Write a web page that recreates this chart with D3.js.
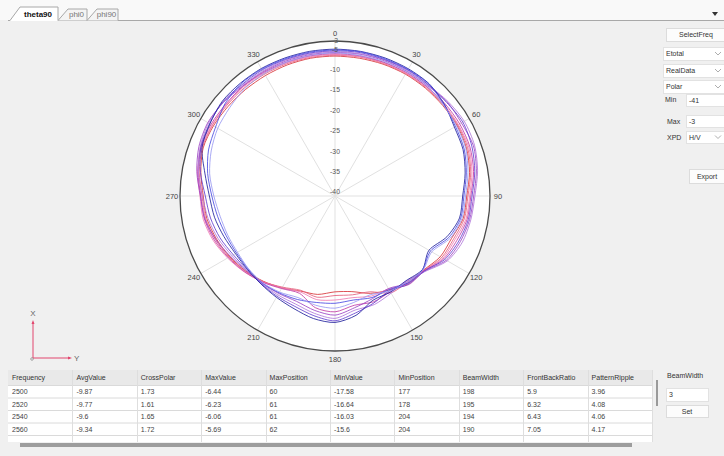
<!DOCTYPE html>
<html>
<head>
<meta charset="utf-8">
<script src="https://cdn.jsdelivr.net/npm/d3@7"></script>
<style>
body { margin: 0; background: #f0f0f0; }
svg text { font-family: "Liberation Sans", Arial, sans-serif; }
</style>
</head>
<body>
<div id="chart"></div>
<script>
// angles (deg) of the pattern samples
var angles = [0,10,20,30,40,50,60,70,80,90,100,110,120,130,140,150,160,170,
              180,190,200,210,220,230,240,250,260,270,280,290,300,310,320,330,340,350];

var freqs = [2500, 2520, 2540, 2560, 2580, 2600, 2620, 2640, 2660, 2680];

// gain in dB for each frequency, one value per angle
var g2500 = [-6.7,-6.7,-6.6,-6.5,-6.5,-6.5,-6.44,-6.7,-7.5,-8.7,-9.1,-10.6,-11.2,-12.7,-13.0,-14.4,-15.6,-17.2,
             -17.5,-16.5,-16.2,-15.0,-13.7,-12.4,-11.2,-10.1,-9.1,-8.7,-7.6,-6.6,-6.6,-6.8,-6.9,-6.9,-6.8,-6.7];
var g2520 = [-6.5,-6.4,-6.4,-6.3,-6.3,-6.3,-6.23,-6.4,-7.2,-8.4,-8.8,-10.1,-10.8,-12.6,-13.4,-13.6,-16.0,-16.4,
             -16.6,-15.8,-16.4,-15.2,-13.6,-12.3,-11.0,-9.8,-8.8,-8.4,-7.2,-6.4,-6.3,-6.4,-6.4,-6.5,-6.5,-6.5];
var g2540 = [-6.3,-6.3,-6.2,-6.2,-6.1,-6.1,-6.06,-6.1,-6.9,-8.0,-8.4,-9.7,-10.5,-12.5,-12.7,-14.7,-14.9,-15.7,
             -15.5,-15.2,-16.0,-15.0,-13.5,-12.0,-10.6,-9.2,-8.2,-7.9,-6.8,-6.2,-6.2,-6.2,-6.1,-6.2,-6.3,-6.3];
var g2560 = [-6.1,-6.1,-6.1,-6.0,-6.0,-5.8,-5.69,-5.8,-6.5,-7.7,-8.1,-9.2,-10.2,-12.5,-13.6,-13.9,-13.4,-13.8,
             -12.6,-13.2,-15.6,-14.8,-13.4,-12.1,-10.8,-9.5,-8.5,-8.1,-6.9,-6.0,-5.9,-6.0,-5.9,-6.0,-6.1,-6.1];
var g2580 = [-5.8,-5.7,-5.7,-5.7,-5.7,-5.1,-5.2,-4.9,-5.8,-7.0,-7.5,-8.3,-9.5,-12.3,-13.1,-14.8,-14.2,-13.2,
             -11.8,-12.5,-13.5,-13.4,-13.1,-12.6,-11.4,-9.9,-8.6,-8.0,-6.6,-5.5,-5.0,-5.3,-5.8,-5.8,-5.8,-5.8];
var g2600 = [-5.6,-5.6,-5.5,-5.5,-5.5,-4.9,-4.4,-4.6,-5.5,-6.7,-7.2,-7.8,-9.2,-12.2,-13.8,-13.5,-12.7,-12.6,
             -11.0,-11.8,-12.8,-13.0,-13.0,-12.7,-11.8,-10.5,-9.4,-8.5,-7.0,-5.8,-5.2,-5.2,-5.6,-5.6,-5.6,-5.6];
var g2620 = [-5.4,-5.3,-5.4,-5.3,-5.4,-5.3,-4.8,-5.3,-6.2,-7.4,-7.8,-8.7,-9.9,-12.4,-12.8,-14.2,-13.1,-11.9,
             -10.4,-11.2,-12.2,-12.6,-12.9,-12.9,-12.2,-11.0,-10.0,-9.2,-7.5,-6.0,-5.5,-5.1,-5.4,-5.3,-5.4,-5.4];
var g2640 = [-5.0,-5.0,-5.0,-5.0,-5.1,-6.0,-7.2,-7.6,-8.6,-9.7,-10.0,-11.8,-14.4,-13.0,-13.9,-13.8,-13.8,-11.3,
             -10.0,-10.5,-11.6,-12.3,-12.8,-13.0,-12.8,-12.0,-11.0,-10.2,-8.6,-6.3,-5.6,-4.9,-4.9,-4.9,-5.0,-5.0];
var g2660 = [-5.2,-5.1,-5.2,-5.2,-5.2,-6.1,-6.9,-7.3,-8.3,-9.4,-9.7,-11.3,-14.0,-12.9,-13.2,-14.5,-14.5,-15.1,
             -14.7,-14.5,-14.0,-13.6,-13.2,-13.2,-13.1,-12.6,-11.8,-10.8,-9.3,-8.0,-7.2,-5.8,-5.1,-5.1,-5.2,-5.2];
var g2680 = [-5.9,-6.0,-5.9,-5.8,-5.8,-6.3,-6.6,-6.9,-7.9,-9.0,-9.4,-10.9,-13.6,-12.8,-13.5,-14.1,-15.3,-14.5,
             -13.5,-13.8,-14.5,-13.8,-13.3,-13.3,-13.4,-13.0,-12.4,-11.3,-9.8,-8.7,-7.8,-7.3,-6.6,-6.3,-6.1,-6.0];

var gains = [g2500, g2520, g2540, g2560, g2580, g2600, g2620, g2640, g2660, g2680];
var colors = ["#d8353a", "#e4607c", "#f07cb4", "#c23ca4", "#9c44c4", "#b27ada",
              "#6440d0", "#22229c", "#4a4ae2", "#9a9af2"];

var radialTicks = [-40, -35, -30, -25, -20, -15, -10, -5, -3];
var angleTicks = [0, 30, 60, 90, 120, 150, 180, 210, 240, 270, 300, 330];

var tableColumns = ["Frequency", "AvgValue", "CrossPolar", "MaxValue", "MaxPosition",
                    "MinValue", "MinPosition", "BeamWidth", "FrontBackRatio", "PatternRipple"];
var tableRows = [
  ["2500", "-9.87", "1.73", "-6.44", "60", "-17.58", "177", "198", "5.9", "3.96"],
  ["2520", "-9.77", "1.61", "-6.23", "61", "-16.64", "178", "195", "6.32", "4.08"],
  ["2540", "-9.6", "1.65", "-6.06", "61", "-16.03", "204", "194", "6.43", "4.06"],
  ["2560", "-9.34", "1.72", "-5.69", "62", "-15.6", "204", "190", "7.05", "4.17"]
];

var W = 724, H = 456;
var svg = d3.select("#chart").append("svg").attr("width", W).attr("height", H);

svg.append("rect").attr("width", W).attr("height", H).attr("fill", "#f0f0f0");

// ---- tab bar
svg.append("rect").attr("width", W).attr("height", 20).attr("fill", "#f9f9f9");
svg.append("line").attr("x1", 8).attr("x2", W).attr("y1", 20.5).attr("y2", 20.5)
  .attr("stroke", "#a8a8a8");

var tabs = [
  {label: "theta90", x0: 10, x1: 58, active: true},
  {label: "phi0", x0: 58, x1: 87, active: false},
  {label: "phi90", x0: 87, x1: 118, active: false}
];
tabs.forEach(function(t) {
  var top = t.active ? 7 : 9;
  svg.append("path")
    .attr("d", "M" + t.x0 + ",20.5 L" + (t.x0 + 10) + "," + top + " L" + t.x1 + "," + top + " L" + t.x1 + ",20.5")
    .attr("fill", t.active ? "#ffffff" : "#f4f4f4")
    .attr("stroke", "#a8a8a8");
  svg.append("text")
    .attr("x", (t.x0 + 8 + t.x1) / 2).attr("y", 17)
    .attr("text-anchor", "middle")
    .style("font-size", "8px")
    .style("font-weight", t.active ? "bold" : "normal")
    .attr("fill", t.active ? "#111" : "#777")
    .text(t.label);
});
svg.append("line").attr("x1", 10.5).attr("x2", 57.5).attr("y1", 20.5).attr("y2", 20.5)
  .attr("stroke", "#fff");
svg.append("path").attr("d", "M712,12 L718,12 L715,16 Z").attr("fill", "#333");

// ---- polar plot
var cx = 335, cy = 196, R = 155;
var r = d3.scaleLinear().domain([-41, -3]).range([0, R]);
var toRad = function(a) { return a * Math.PI / 180; };

var g = svg.append("g").attr("transform", "translate(" + cx + "," + cy + ")");

g.append("circle").attr("r", R).attr("fill", "#ffffff");

g.selectAll(".grid")
  .data(radialTicks.filter(function(v) { return v > -3; }))
  .enter().append("circle")
  .attr("r", function(v) { return r(v); })
  .attr("fill", "none")
  .attr("stroke", "#e1e1e1");

g.selectAll(".spoke")
  .data(angleTicks)
  .enter().append("line")
  .attr("x1", 0).attr("y1", 0)
  .attr("x2", function(a) { return R * Math.sin(toRad(a)); })
  .attr("y2", function(a) { return -R * Math.cos(toRad(a)); })
  .attr("stroke", "#e1e1e1");

var line = d3.lineRadial()
  .angle(function(d, i) { return toRad(angles[i]); })
  .radius(function(d) { return r(d); })
  .curve(d3.curveCardinalClosed.tension(0.2));

g.selectAll(".pattern")
  .data(gains)
  .enter().append("path")
  .attr("d", line)
  .attr("fill", "none")
  .attr("stroke", function(d, i) { return colors[i]; })
  .attr("stroke-width", 1)
  .attr("stroke-opacity", 0.85);

g.append("circle").attr("r", R).attr("fill", "none")
  .attr("stroke", "#4a4a4a").attr("stroke-width", 1.3);

g.selectAll(".rlabel")
  .data(radialTicks)
  .enter().append("text")
  .attr("x", 0)
  .attr("y", function(v) { return -r(v); })
  .attr("dy", "0.35em")
  .attr("text-anchor", "middle")
  .style("font-size", "6.8px")
  .attr("fill", "#555")
  .text(function(v) { return v; });

g.selectAll(".alabel")
  .data(angleTicks)
  .enter().append("text")
  .attr("x", function(a) { return (R + 8) * Math.sin(toRad(a)); })
  .attr("y", function(a) { return -(R + 8) * Math.cos(toRad(a)); })
  .attr("dy", "0.35em")
  .attr("text-anchor", "middle")
  .style("font-size", "7.5px")
  .attr("fill", "#444")
  .text(function(a) { return a; });

// ---- right side controls
function button(x, y, w, h, label) {
  svg.append("rect").attr("x", x + 0.5).attr("y", y + 0.5).attr("width", w).attr("height", h)
    .attr("fill", "#fcfcfc").attr("stroke", "#dcdcdc");
  svg.append("text").attr("x", x + w / 2).attr("y", y + h / 2 + 2.5)
    .attr("text-anchor", "middle").style("font-size", "7px").attr("fill", "#333").text(label);
}
function field(x, y, w, h, label, combo) {
  svg.append("rect").attr("x", x + 0.5).attr("y", y + 0.5).attr("width", w).attr("height", h)
    .attr("fill", "#ffffff").attr("stroke", "#e2e2e2");
  svg.append("text").attr("x", x + 3).attr("y", y + h / 2 + 2.5)
    .style("font-size", "7px").attr("fill", "#333").text(label);
  if (combo) {
    var ax = W - 6, ay = y + h / 2;
    svg.append("path").attr("d", "M" + (ax - 3) + "," + (ay - 1.5) + " L" + ax + "," + (ay + 1.5) + " L" + (ax + 3) + "," + (ay - 1.5))
      .attr("fill", "none").attr("stroke", "#999").attr("stroke-width", 0.8);
  }
}
function label(x, y, t) {
  svg.append("text").attr("x", x).attr("y", y).style("font-size", "7px").attr("fill", "#333").text(t);
}

button(666, 28, 60, 13, "SelectFreq");
field(663, 47, 62, 13, "Etotal", true);
field(663, 64, 62, 13, "RealData", true);
field(663, 80, 62, 13, "Polar", true);
label(665, 102, "Min");
field(686, 94, 40, 12, "-41", false);
label(667, 124, "Max");
field(686, 115, 40, 12, "-3", false);
label(667, 140, "XPD");
field(686, 131, 40, 12, "H/V", true);
button(689, 169, 36, 14, "Export");

// ---- X / Y orientation marker
var ox = 33, oy = 358;
svg.append("line").attr("x1", ox).attr("y1", oy).attr("x2", ox).attr("y2", 322)
  .attr("stroke", "#e2466e").attr("stroke-width", 1);
svg.append("line").attr("x1", ox).attr("y1", oy).attr("x2", 70).attr("y2", oy)
  .attr("stroke", "#e2466e").attr("stroke-width", 1);
svg.append("path").attr("d", "M" + (ox - 1.5) + ",324 L" + ox + ",320 L" + (ox + 1.5) + ",324 Z").attr("fill", "#e2466e");
svg.append("path").attr("d", "M68," + (oy - 1.5) + " L72," + oy + " L68," + (oy + 1.5) + " Z").attr("fill", "#e2466e");
svg.append("circle").attr("cx", ox - 1).attr("cy", oy + 1).attr("r", 1.3).attr("fill", "none").attr("stroke", "#777").attr("stroke-width", 0.6);
svg.append("text").attr("x", ox).attr("y", 316).attr("text-anchor", "middle")
  .style("font-size", "8px").attr("fill", "#666").text("X");
svg.append("text").attr("x", 74).attr("y", 361)
  .style("font-size", "8px").attr("fill", "#666").text("Y");

// ---- table
var tx0 = 8, tx1 = 652, headY = 370, headH = 15, rowH = 12.5;
var col = d3.scaleBand().domain(tableColumns).range([tx0, tx1]);

svg.append("rect").attr("x", tx0).attr("y", headY).attr("width", tx1 - tx0).attr("height", 442 - headY)
  .attr("fill", "#ffffff");
svg.append("rect").attr("x", tx0).attr("y", headY).attr("width", tx1 - tx0).attr("height", headH)
  .attr("fill", "#e9e9e9");

svg.selectAll(".hdr")
  .data(tableColumns)
  .enter().append("text")
  .attr("x", function(c) { return col(c) + 4; })
  .attr("y", headY + 10)
  .style("font-size", "7px").attr("fill", "#333")
  .text(function(c) { return c; });

// row lines (4 data rows plus the start of a fifth)
var rowTops = tableRows.map(function(d, i) { return headY + headH + i * rowH; });
svg.selectAll(".rowline")
  .data(rowTops.concat([headY + headH + tableRows.length * rowH]))
  .enter().append("line")
  .attr("x1", tx0).attr("x2", tx1)
  .attr("y1", function(y) { return y + 0.5; }).attr("y2", function(y) { return y + 0.5; })
  .attr("stroke", "#dadada");

svg.selectAll(".colline")
  .data(tableColumns.slice(1).concat(["end"]))
  .enter().append("line")
  .attr("x1", function(c) { return c === "end" ? tx1 + 0.5 : Math.round(col(c)) + 0.5; })
  .attr("x2", function(c) { return c === "end" ? tx1 + 0.5 : Math.round(col(c)) + 0.5; })
  .attr("y1", headY).attr("y2", 442)
  .attr("stroke", "#dedede");

tableRows.forEach(function(row, i) {
  svg.selectAll(".cell" + i)
    .data(row)
    .enter().append("text")
    .attr("x", function(v, j) { return col(tableColumns[j]) + 4; })
    .attr("y", rowTops[i] + 9)
    .style("font-size", "7px").attr("fill", "#444")
    .text(function(v) { return v; });
});

// scroll bars
svg.append("rect").attr("x", 20).attr("y", 443).attr("width", 612).attr("height", 4)
  .attr("fill", "#9d9d9d");
svg.append("rect").attr("x", 656).attr("y", 380).attr("width", 2).attr("height", 26)
  .attr("fill", "#9a9a9a");

// beam width control
label(667, 378, "BeamWidth");
field(666, 388, 42, 13, "3", false);
button(666, 405, 42, 12, "Set");
</script>
</body>
</html>
